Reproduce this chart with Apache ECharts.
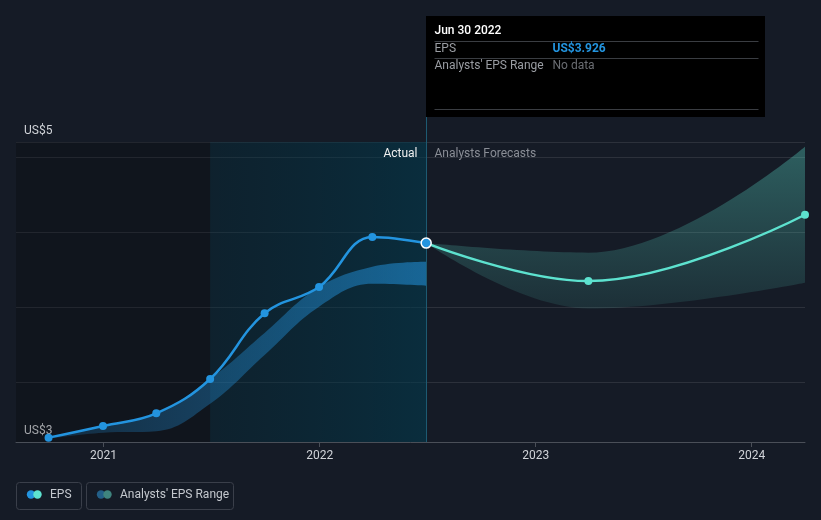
<!DOCTYPE html>
<html><head><meta charset="utf-8">
<script src="https://cdn.jsdelivr.net/npm/echarts@6/dist/echarts.min.js"></script>
<style>html,body{margin:0;padding:0;background:#151b26;}#c{width:821px;height:520px;}</style>
</head><body><div id="c"></div>
<script>
// ---- data ----
const actualDates = ['2020-09-30','2020-12-31','2021-03-31','2021-06-30','2021-09-30','2021-12-31','2022-03-31','2022-06-30'];
const actualEps   = [2.629, 2.707, 2.791, 3.02, 3.458, 3.633, 3.967, 3.926];
const actualLow   = [2.622, 2.662, 2.672, 2.855, 3.18, 3.502, 3.655, 3.642];
const actualHigh  = [2.629, 2.707, 2.791, 3.02, 3.327, 3.633, 3.769, 3.802];
const forecastDates = ['2022-06-30','2023-03-31','2024-03-31'];
const forecastEps   = [3.926, 3.673, 4.115];
const forecastLow   = [3.926, 3.49, 3.662];
const forecastHigh  = [3.926, 3.862, 4.569];
const yearLabels = ['2021','2022','2023','2024'];
const yLabelValues = [2.6, 4.6];
const yLabelTexts = ['US$3', 'US$5'];
const axisStart = '2020-08-06';
const axisEnd = '2024-03-31';
const pastYearStart = '2021-06-30';
const tooltipDate = '2022-06-30';
const tooltipTitle = 'Jun 30 2022';
const tooltipEps = 'US$3.926';

const FONT = 'Roboto, "Noto Sans", sans-serif';
const ts = d => echarts.time.parse(d).getTime();
const pair = (d, v) => d.map((x, i) => [ts(x), v[i]]);
// value first, so the stack is computed on the y value (encode maps it back)
const pairVT = (d, v) => d.map((x, i) => [v[i], ts(x)]);
const diff = (hi, lo) => hi.map((h, i) => +(h - lo[i]).toFixed(4));
const yearTicks = yearLabels.map(y => ts(y + '-01-01'));

const chart = echarts.init(document.getElementById('c'));
chart.setOption({
  backgroundColor: '#151b26',
  animation: false,
  textStyle: {fontFamily: FONT},
  grid: {left: 16, right: 16, top: 142, bottom: 78},
  xAxis: {
    type: 'value', min: ts(axisStart), max: ts(axisEnd),
    axisLine: {lineStyle: {color: '#4a4f58'}},
    axisTick: {show: true, length: 5, lineStyle: {color: '#4a4f58'}, customValues: yearTicks},
    axisLabel: {customValues: yearTicks, formatter: v => yearLabels[yearTicks.indexOf(v)] || '', color: '#d0d3d8', fontSize: 12, margin: 8, fontFamily: FONT},
    splitLine: {show: false}
  },
  yAxis: {
    type: 'value', min: 2.6, max: 4.6, splitNumber: 4,
    axisLine: {show: false}, axisTick: {show: false},
    splitLine: {lineStyle: {color: '#2c313b'}},
    axisLabel: {
      inside: true, customValues: yLabelValues,
      formatter: v => { let b = 0; yLabelValues.forEach((y, i) => { if (Math.abs(y - v) < Math.abs(yLabelValues[b] - v)) b = i; }); return yLabelTexts[b]; },
      verticalAlign: 'bottom', padding: [0, 0, 5, 0], margin: 8, color: '#d0d3d8', fontSize: 12, fontFamily: FONT
    }
  },
  series: [
    {
      type: 'line', name: 'actualLow', stack: 'act', z: 1, silent: true,
      data: pairVT(actualDates, actualLow), encode: {x: 1, y: 0}, symbol: 'none', smooth: 0.4,
      lineStyle: {width: 0, opacity: 0},
      markArea: {
        silent: true,
        data: [
          [{xAxis: ts(axisStart), itemStyle: {color: 'rgba(0,0,0,0.22)'}}, {xAxis: ts(pastYearStart)}],
          [{xAxis: ts(pastYearStart), itemStyle: {color: new echarts.graphic.LinearGradient(0, 0, 1, 0, [
            {offset: 0, color: 'rgba(0,45,60,0.35)'}, {offset: 1, color: 'rgba(0,60,80,0.55)'}])}},
           {xAxis: ts(tooltipDate)}]
        ]
      },
      markLine: {
        silent: true, symbol: 'none', label: {show: false},
        lineStyle: {color: '#1d5a72', width: 1, type: 'solid'},
        data: [{xAxis: ts(tooltipDate)}]
      }
    },
    {
      type: 'line', name: 'actualBand', stack: 'act', z: 2, silent: true,
      data: pairVT(actualDates, diff(actualHigh, actualLow)), encode: {x: 1, y: 0}, symbol: 'none', smooth: 0.4,
      lineStyle: {width: 0, opacity: 0},
      areaStyle: {opacity: 1, color: new echarts.graphic.LinearGradient(0, 0, 1, 0, [
        {offset: 0, color: 'rgba(35,148,223,0.18)'}, {offset: 1, color: 'rgba(35,148,223,0.55)'}])}
    },
    {
      type: 'line', name: 'fcLow', stack: 'fc', z: 1, silent: true,
      data: pairVT(forecastDates, forecastLow), encode: {x: 1, y: 0}, symbol: 'none', smooth: 0.4,
      lineStyle: {width: 0, opacity: 0}
    },
    {
      type: 'line', name: 'fcBand', stack: 'fc', z: 2, silent: true,
      data: pairVT(forecastDates, diff(forecastHigh, forecastLow)), encode: {x: 1, y: 0}, symbol: 'none', smooth: 0.4,
      lineStyle: {width: 0, opacity: 0},
      areaStyle: {opacity: 1, color: new echarts.graphic.LinearGradient(0, 0, 0, 1, [
        {offset: 0, color: 'rgba(93,226,207,0.34)'}, {offset: 1, color: 'rgba(93,226,207,0.10)'}])}
    },
    {
      type: 'line', name: 'EPS forecast', z: 4, silent: true,
      data: pair(forecastDates, forecastEps).map((p, i) => i === 0 ? {value: p, symbol: 'none'} : {value: p}),
      smooth: 0.4, symbol: 'circle', symbolSize: 8, showSymbol: true,
      lineStyle: {color: '#5de2cf', width: 2.5}, itemStyle: {color: '#5de2cf'}
    },
    {
      type: 'line', name: 'EPS', z: 5, silent: true,
      data: pair(actualDates, actualEps).map((p, i) => i === actualDates.length - 1
        ? {value: p, symbolSize: 10, itemStyle: {color: '#2394df', borderColor: '#ffffff', borderWidth: 1.5}} : {value: p}),
      smooth: 0.4, symbol: 'circle', symbolSize: 8, showSymbol: true,
      lineStyle: {color: '#2394df', width: 2.5}, itemStyle: {color: '#2394df'}
    }
  ]
});

const x0 = Math.round(chart.convertToPixel({xAxisIndex: 0}, ts(tooltipDate))) + 0.5;
const txt = (x, y, text, fill, extra) => ({type: 'text', x: x, y: y, z: 100,
  style: Object.assign({text: text, fill: fill, font: '12px ' + FONT, verticalAlign: 'middle', align: 'left'}, extra || {})});
const hline = (x1, x2, y, c) => ({type: 'line', z: 100, shape: {x1: x1, y1: y, x2: x2, y2: y}, style: {stroke: c, lineWidth: 1}});
chart.setOption({
  graphic: [
    {type: 'line', z: 100, shape: {x1: x0, y1: 117, x2: x0, y2: 142}, style: {stroke: '#1d5a72', lineWidth: 1}},
    {type: 'rect', z: 99, shape: {x: x0 - 0.5, y: 16, width: 339, height: 101}, style: {fill: '#000000'}},
    txt(x0 + 8, 31, tooltipTitle, '#ffffff', {font: '500 12px ' + FONT}),
    hline(x0 + 8, x0 + 332, 41.5, '#3a3d42'),
    txt(x0 + 8, 49, 'EPS', '#9a9da3'),
    txt(x0 + 126, 49, tooltipEps, '#2394df', {font: 'bold 12px ' + FONT}),
    hline(x0 + 8, x0 + 332, 58.5, '#3a3d42'),
    txt(x0 + 8, 66, "Analysts' EPS Range", '#9a9da3'),
    txt(x0 + 126, 66, 'No data', '#6b6e73'),
    hline(x0 + 8, x0 + 332, 109.5, '#3a3d42'),
    txt(x0 - 9, 154, 'Actual', '#f0f0f0', {align: 'right'}),
    txt(x0 + 8, 154, 'Analysts Forecasts', '#8a8e96'),
    // legend
    {type: 'rect', z: 100, shape: {x: 16.5, y: 482.5, width: 65, height: 27, r: 3}, style: {fill: 'none', stroke: '#3a3f4a', lineWidth: 1}},
    {type: 'circle', z: 100, shape: {cx: 31, cy: 494.5, r: 4.2}, style: {fill: '#2394df'}},
    {type: 'circle', z: 100, shape: {cx: 37.5, cy: 494.5, r: 4.2}, style: {fill: '#5de2cf'}},
    txt(50, 495, 'EPS', '#c4c8ce'),
    {type: 'rect', z: 100, shape: {x: 86.5, y: 482.5, width: 147, height: 27, r: 3}, style: {fill: 'none', stroke: '#3a3f4a', lineWidth: 1}},
    {type: 'circle', z: 100, shape: {cx: 101, cy: 494.5, r: 4.2}, style: {fill: '#235f88'}},
    {type: 'circle', z: 100, shape: {cx: 107.5, cy: 494.5, r: 4.2}, style: {fill: '#3f847e'}},
    txt(120, 495, "Analysts' EPS Range", '#c4c8ce')
  ]
});
</script></body></html>
